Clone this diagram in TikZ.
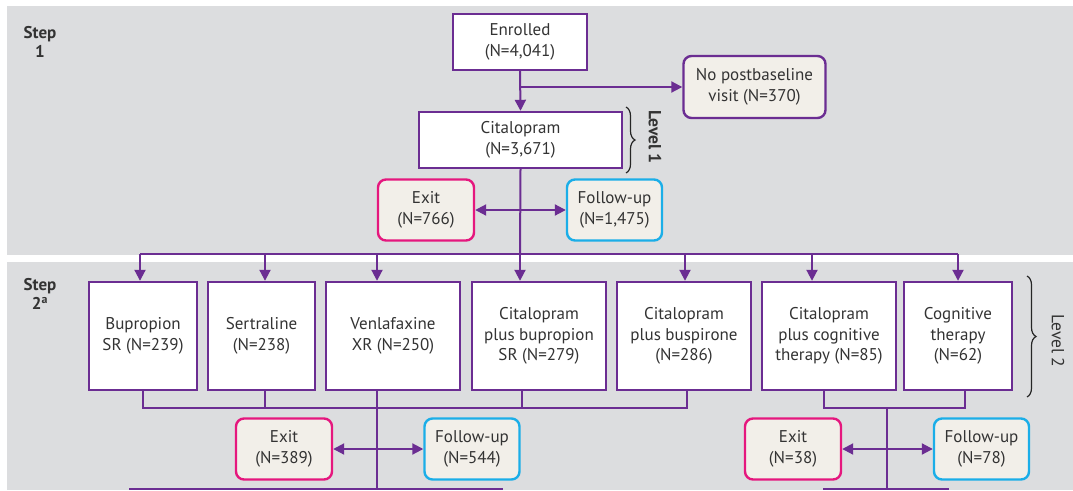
\documentclass[tikz,border=0pt]{standalone}
\usepackage{fontspec}
\setmainfont{PT Sans}
\usetikzlibrary{arrows.meta,decorations.pathreplacing,calc}
\definecolor{flowpurple}{HTML}{6B2D92}
\definecolor{exitpink}{HTML}{E5177E}
\definecolor{fucyan}{HTML}{1BAEE8}
\definecolor{bandgray}{HTML}{DCDDDF}
\definecolor{softfill}{HTML}{F2EFE9}
\definecolor{inkgray}{HTML}{333333}
\tikzset{
  txt/.style={text=inkgray, font=\fontsize{17}{20.5}\selectfont, align=center},
  whitebox/.style={txt, draw=flowpurple, fill=white, line width=2.4pt, inner sep=0pt},
  softbox/.style={txt, fill=softfill, line width=2.4pt, rounded corners=8pt, inner sep=0pt},
  purplebox/.style={softbox, draw=flowpurple},
  exitbox/.style={softbox, draw=exitpink, minimum width=96pt, minimum height=61pt},
  fubox/.style={softbox, draw=fucyan, minimum width=95pt, minimum height=61pt},
  rowbox/.style={whitebox, minimum height=108pt},
  link/.style={draw=flowpurple, line width=2pt},
  arr/.style={link, -{Triangle[length=11pt,width=11pt]}},
  dbl/.style={link, {Triangle[length=11pt,width=11pt]}-{Triangle[length=11pt,width=11pt]}},
  steplbl/.style={text=inkgray, font=\bfseries\fontsize{17}{19.5}\selectfont, align=center},
  levellbl/.style={text=inkgray, font=\fontsize{17.5}{20}\selectfont, rotate=-90},
  levelbrace/.style={draw=black!85, line width=1.2pt, decorate, decoration={brace, amplitude=9pt}}
}
\begin{document}
\begin{tikzpicture}[x=1pt, y=-1pt]
\useasboundingbox (0,0) rectangle (1073,490);
% background bands
\fill[bandgray] (7,6) rectangle (1073,255);
\fill[bandgray] (7,262) rectangle (1073,490);

% step labels
\node[steplbl] (s1) at (40,42) {Step\\1};
\node[steplbl] (s2) at (40,294) {Step\\2\textsuperscript{a}};

% level 1
\node[whitebox, minimum width=134pt, minimum height=56pt] (enr) at (520,42) {Enrolled\\(N=4,041)};
\node[purplebox, minimum width=142pt, minimum height=62pt] (nopost) at (754.5,87) {No postbaseline\\visit (N=370)};
\node[whitebox, minimum width=203pt, minimum height=56pt] (cit) at (520.5,140) {Citalopram\\(N=3,671)};
\node[exitbox] (exit1) at (426,210) {Exit\\(N=766)};
\node[fubox] (fu1) at (614.5,210) {Follow-up\\(N=1,475)};

\draw[levelbrace] (626,107) -- (626,173);
\node[levellbl, font=\bfseries\fontsize{17.5}{20}\selectfont] (lv1) at (655,137) {Level 1};

% level 2 treatments
\node[rowbox, minimum width=108pt] (b1) at (143,336) {Bupropion\\SR (N=239)};
\node[rowbox, minimum width=107pt] (b2) at (261.5,336) {Sertraline\\(N=238)};
\node[rowbox, minimum width=134pt] (b3) at (393,336) {Venlafaxine\\XR (N=250)};
\node[rowbox, minimum width=134pt] (b4) at (539,336) {Citalopram\\plus bupropion\\SR (N=279)};
\node[rowbox, minimum width=134pt] (b5) at (684,336) {Citalopram\\plus buspirone\\(N=286)};
\node[rowbox, minimum width=134pt] (b6) at (829,336) {Citalopram\\plus cognitive\\therapy (N=85)};
\node[rowbox, minimum width=108pt] (b7) at (958,336) {Cognitive\\therapy\\(N=62)};

\draw[levelbrace] (1027,276) -- (1027,397);
\node[levellbl] (lv2) at (1058,341) {Level 2};

\node[exitbox] (exit2) at (284,449) {Exit\\(N=389)};
\node[fubox] (fu2) at (472,449) {Follow-up\\(N=544)};
\node[exitbox] (exit3) at (793,449) {Exit\\(N=38)};
\node[fubox] (fu3) at (981.5,449) {Follow-up\\(N=78)};

% step 1 connectors
\coordinate (j0) at (enr.south |- nopost.west);
\draw[arr] (enr.south) -- (cit.north);
\draw[arr] (j0) -- (nopost.west);
\draw[dbl] (exit1.east) -- (fu1.west);

% bus feeding the level 2 treatments
\coordinate (bus) at (520,254);
\coordinate (t1) at (140,254);
\coordinate (t2) at (265,254);
\coordinate (t3) at (377,254);
\coordinate (t4) at (520,254);
\coordinate (t5) at (685,254);
\coordinate (t6) at (812,254);
\coordinate (t7) at (958,254);
\draw[link] (cit.south) -- (bus);
\draw[link] (t1) -- (t7);
\draw[arr] (t1) -- (t1 |- b1.north);
\draw[arr] (t2) -- (t2 |- b2.north);
\draw[arr] (t3) -- (t3 |- b3.north);
\draw[arr] (t4) -- (t4 |- b4.north);
\draw[arr] (t5) -- (t5 |- b5.north);
\draw[arr] (t6) -- (t6 |- b6.north);
\draw[arr] (t7) -- (t7 |- b7.north);

% left outcome group
\coordinate (m1) at (143,408);
\coordinate (m2) at (265,408);
\coordinate (m4) at (522,408);
\coordinate (m5) at (687,408);
\coordinate (v1) at (377,490);
\draw[link] (m1 |- b1.south) -- (m1) -- (m5) -- (m5 |- b5.south);
\draw[link] (m2 |- b2.south) -- (m2);
\draw[link] (m4 |- b4.south) -- (m4);
\draw[link] (v1 |- b3.south) -- (v1);
\draw[dbl] (exit2.east) -- (fu2.west);
\coordinate (e1) at (129,489);
\coordinate (e2) at (503,489);
\draw[link] (e1) -- (e2);

% right outcome group
\coordinate (r1) at (824,408);
\coordinate (r2) at (965,408);
\coordinate (v2) at (887,490);
\draw[link] (r1 |- b6.south) -- (r1) -- (r2) -- (r2 |- b7.south);
\draw[link] (v2 |- r1) -- (v2);
\draw[dbl] (exit3.east) -- (fu3.west);
\coordinate (e3) at (823,489);
\coordinate (e4) at (949,489);
\draw[link] (e3) -- (e4);
\end{tikzpicture}
\end{document}
